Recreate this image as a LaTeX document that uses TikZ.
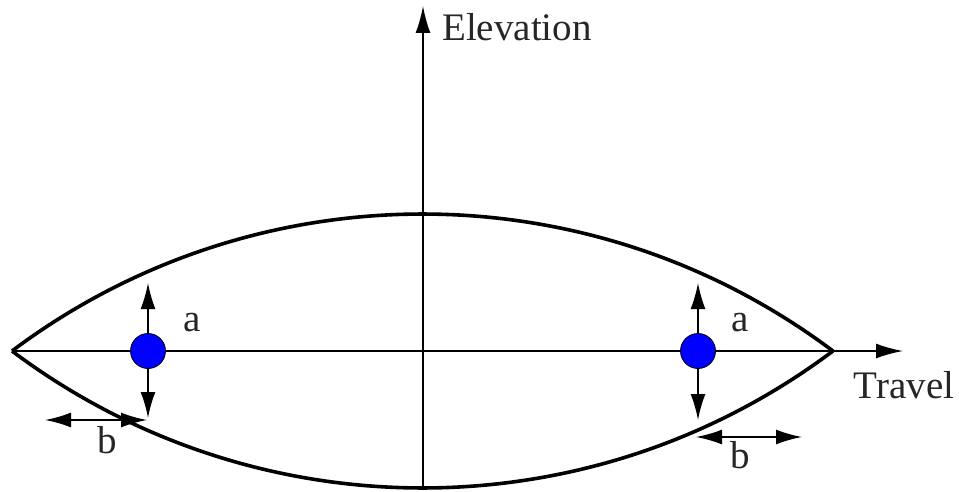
\documentclass[tikz,border=0pt]{standalone}
\usepackage{fontspec}
\setmainfont{Liberation Serif}
\usetikzlibrary{arrows.meta}
\definecolor{dotblue}{RGB}{0,0,255}
\tikzset{
  lens/.style={line width=3.6pt, line join=round},
  axis/.style={line width=1.8pt, -{Latex[length=27pt,width=15pt]}},
  darr/.style={line width=1.8pt, {Latex[length=26pt,width=15pt]}-{Latex[length=26pt,width=15pt]}},
  sarr/.style={line width=1.8pt, -{Latex[length=26pt,width=15pt]}},
  dot/.style={circle, fill=dotblue, draw=black, line width=0.8pt, minimum size=35pt, inner sep=0pt},
  lab/.style={font=\fontsize{39}{44}\selectfont, text=black!85, inner sep=0pt}
}
\begin{document}
\begin{tikzpicture}[x=1pt,y=1pt]
\useasboundingbox (0,0) rectangle (959,491);
% named points
\coordinate (L) at (12,140);
\coordinate (R) at (833,140);
\coordinate (xend) at (903,140);
\coordinate (ybot) at (423,3);
\coordinate (ytop) at (423,485);
\coordinate (aupL) at (148,208);
\coordinate (adnL) at (148,73);
\coordinate (aupR) at (698,208);
\coordinate (adnR) at (698,71);
\coordinate (bL1) at (45,71);
\coordinate (bL2) at (147,71);
\coordinate (bR1) at (696,54);
\coordinate (bR2) at (802,54);
% axes
\draw[axis] (L) -- (xend);
\draw[axis] (ybot) -- (ytop);
% lens
\draw[lens] (L) arc[start angle=126.91, end angle=53.09, radius=683.5];
\draw[lens] (L) arc[start angle=233.09, end angle=306.91, radius=683.5];
% dots
\node[dot] (dl) at (148,140) {};
\node[dot] (dr) at (698,140) {};
% a arrows
\draw[sarr] (dl.north) -- (aupL);
\draw[sarr] (dl.south) -- (adnL);
\draw[sarr] (dr.north) -- (aupR);
\draw[sarr] (dr.south) -- (adnR);
% b arrows
\draw[darr] (bL1) -- (bL2);
\draw[darr] (bR1) -- (bR2);
% labels
\node[lab] (la1) at (192,168) {a};
\node[lab] (la2) at (740,168) {a};
\node[lab] (lb1) at (107,51) {b};
\node[lab] (lb2) at (740,36) {b};
\node[lab] (travel) at (904,106) {Travel};
\node[lab] (elev) at (517,464) {Elevation};
\end{tikzpicture}
\end{document}
